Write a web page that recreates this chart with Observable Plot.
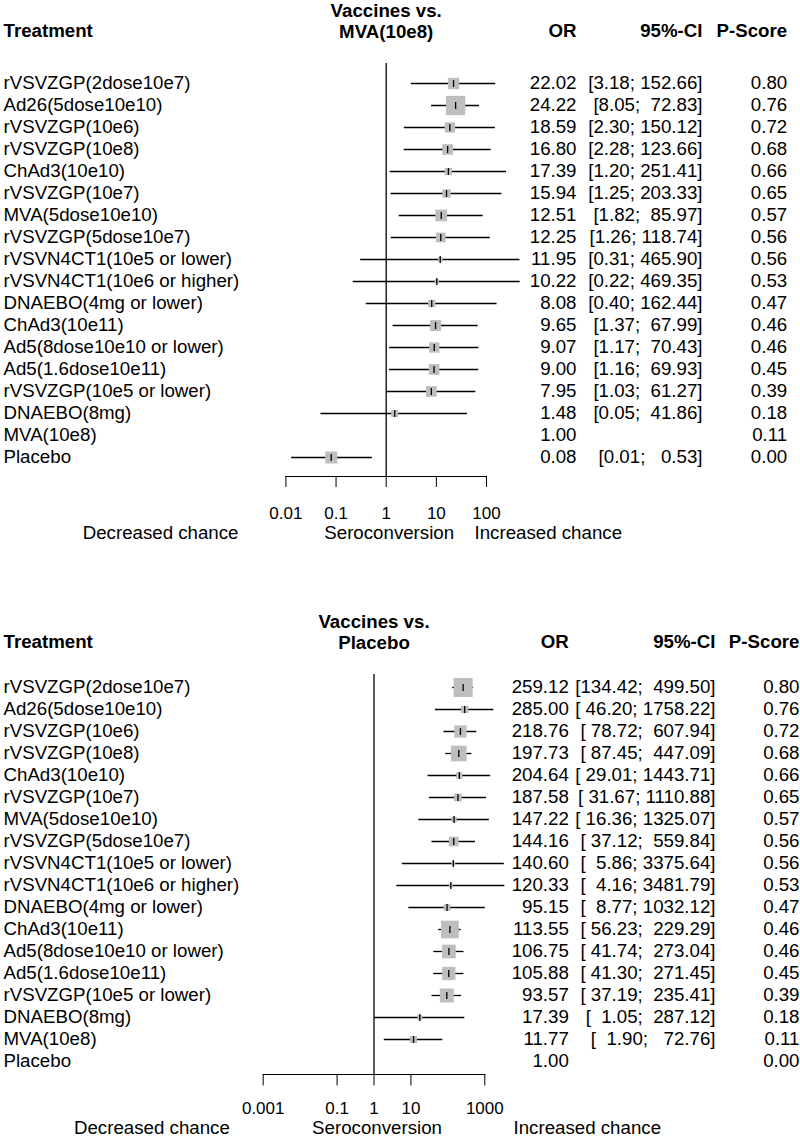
<!DOCTYPE html>
<html><head><meta charset="utf-8">
<script src="https://cdn.jsdelivr.net/npm/d3@7"></script>
<script src="https://cdn.jsdelivr.net/npm/@observablehq/plot@0.6"></script>
<style>
body{margin:0;background:#fff;}
svg{display:block;}
[aria-label="x-axis tick label"], [aria-label="x-axis"] text {font-size:17px;}
</style>
</head><body><div id="chart"></div>
<script>
// ---------- DATA ----------
const treatments = [
  "rVSVZGP(2dose10e7)", "Ad26(5dose10e10)", "rVSVZGP(10e6)", "rVSVZGP(10e8)",
  "ChAd3(10e10)", "rVSVZGP(10e7)", "MVA(5dose10e10)", "rVSVZGP(5dose10e7)",
  "rVSVN4CT1(10e5 or lower)", "rVSVN4CT1(10e6 or higher)", "DNAEBO(4mg or lower)",
  "ChAd3(10e11)", "Ad5(8dose10e10 or lower)", "Ad5(1.6dose10e11)",
  "rVSVZGP(10e5 or lower)", "DNAEBO(8mg)", "MVA(10e8)", "Placebo"
];

// Panel 1: Vaccines vs. MVA(10e8)
const mvaOR    = [22.02, 24.22, 18.59, 16.80, 17.39, 15.94, 12.51, 12.25, 11.95, 10.22, 8.08, 9.65, 9.07, 9.00, 7.95, 1.48, 1.00, 0.08];
const mvaLower = [3.18, 8.05, 2.30, 2.28, 1.20, 1.25, 1.82, 1.26, 0.31, 0.22, 0.40, 1.37, 1.17, 1.16, 1.03, 0.05, null, 0.013];
const mvaUpper = [152.66, 72.83, 150.12, 123.66, 251.41, 203.33, 85.97, 118.74, 465.90, 469.35, 162.44, 67.99, 70.43, 69.93, 61.27, 41.86, null, 0.53];
const mvaPScore = [0.80, 0.76, 0.72, 0.68, 0.66, 0.65, 0.57, 0.56, 0.56, 0.53, 0.47, 0.46, 0.46, 0.45, 0.39, 0.18, 0.11, 0.00];
const mvaWeight = [11.3, 19.3, 10.3, 10.7, 7.3, 8.3, 11.7, 9.7, 4.7, 4.3, 7.3, 11, 10.3, 10.7, 10.7, 7, 0, 12];
const mvaTicks = [0.01, 0.1, 1, 10, 100];

// Panel 2: Vaccines vs. Placebo
const plaOR    = [259.12, 285.00, 218.76, 197.73, 204.64, 187.58, 147.22, 144.16, 140.60, 120.33, 95.15, 113.55, 106.75, 105.88, 93.57, 17.39, 11.77, 1.00];
const plaLower = [134.42, 46.20, 78.72, 87.45, 29.01, 31.67, 16.36, 37.12, 5.86, 4.16, 8.77, 56.23, 41.74, 41.30, 37.19, 1.05, 1.90, null];
const plaUpper = [499.50, 1758.22, 607.94, 447.09, 1443.71, 1110.88, 1325.07, 559.84, 3375.64, 3481.79, 1032.12, 229.29, 273.04, 271.45, 235.41, 287.12, 72.76, null];
const plaPScore = [0.80, 0.76, 0.72, 0.68, 0.66, 0.65, 0.57, 0.56, 0.56, 0.53, 0.47, 0.46, 0.46, 0.45, 0.39, 0.18, 0.11, 0.00];
const plaWeight = [19, 7.3, 12.3, 15.7, 6.3, 7.7, 5.3, 9.7, 4, 4, 6.7, 17.7, 13.7, 13.3, 14, 5, 7, 0];
const plaTicks = [0.001, 0.1, 1, 10, 1000];

const nullEffect = 1;
// ---------------------------

const FONT = "'Liberation Sans', Arial, Helvetica, sans-serif";
const FS = 18.7;
const NBSP = "\u00A0";

// vertical-line symbol for the point estimate tick
const vline = {
  draw(context, size) {
    const h = Math.sqrt(size / Math.PI);
    context.moveTo(0, -h);
    context.lineTo(0, h);
  }
};

function buildRows(or, lo, hi, p, w) {
  const L = lo.map(v => v == null ? "" : v.toFixed(2));
  const H = hi.map(v => v == null ? "" : v.toFixed(2));
  const wl = d3.max(L, s => s.length), wh = d3.max(H, s => s.length);
  return treatments.map((label, i) => ({
    label, or: or[i], lo: lo[i], hi: hi[i], p: p[i], w: w[i],
    orText: or[i].toFixed(2),
    ciText: lo[i] == null ? "" : "[" + L[i].padStart(wl, NBSP) + ";" + NBSP + H[i].padStart(wh, NBSP) + "]",
    pText: p[i].toFixed(2)
  }));
}

function forest(c) {
  const rows = c.rows;
  const frameRight = 800 - c.marginRight;
  const txt = {fontSize: FS, fill: "black", lineAnchor: "middle"};
  const bold = {...txt, fontWeight: "bold"};
  return Plot.plot({
    width: 800, height: c.height,
    marginTop: c.marginTop, marginBottom: c.marginBottom,
    marginLeft: c.marginLeft, marginRight: c.marginRight,
    style: {fontFamily: FONT, fontSize: "17px", background: "white", color: "black"},
    x: {type: "log", domain: c.domain, ticks: c.ticks, tickFormat: d => String(d),
        tickSize: c.tickSize, tickPadding: c.tickPadding, line: true, label: null},
    y: {type: "point", domain: treatments, range: c.yRange, padding: 0, axis: null},
    r: {type: "identity"},
    marks: [
      Plot.ruleX([nullEffect], {stroke: "black", strokeWidth: 1.3}),
      Plot.ruleY(rows.filter(d => d.lo != null), {y: "label", x1: "lo", x2: "hi", stroke: "black", strokeWidth: 1.3}),
      Plot.dot(rows.filter(d => d.w > 0), {x: "or", y: "label", r: d => d.w / Math.sqrt(Math.PI), symbol: "square", fill: "#bebebe", stroke: null}),
      Plot.dot(rows.filter(d => d.w > 0), {x: "or", y: "label", r: 3.5, symbol: vline, fill: "none", stroke: "black", strokeWidth: 1.3}),
      // row texts
      Plot.text(rows, {y: "label", text: "label", frameAnchor: "left", dx: 3 - c.marginLeft, textAnchor: "start", ...txt}),
      Plot.text(rows, {y: "label", text: "orText", frameAnchor: "right", dx: c.colOR - frameRight, textAnchor: "end", ...txt}),
      Plot.text(rows, {y: "label", text: "ciText", frameAnchor: "right", dx: c.colCI - frameRight, textAnchor: "end", ...txt}),
      Plot.text(rows, {y: "label", text: "pText", frameAnchor: "right", dx: c.colP - frameRight, textAnchor: "end", ...txt}),
      // headers
      Plot.text(["Treatment"], {frameAnchor: "top-left", dx: 3 - c.marginLeft, dy: c.headY - c.marginTop, textAnchor: "start", ...bold}),
      Plot.text(["OR"], {frameAnchor: "top-right", dx: c.colOR - frameRight, dy: c.headY - c.marginTop, textAnchor: "end", ...bold}),
      Plot.text(["95%-CI"], {frameAnchor: "top-right", dx: c.colCI - frameRight, dy: c.headY - c.marginTop, textAnchor: "end", ...bold}),
      Plot.text(["P-Score"], {frameAnchor: "top-right", dx: c.colP - frameRight, dy: c.headY - c.marginTop, textAnchor: "end", ...bold}),
      Plot.text(["Vaccines vs.\n" + c.comparator], {x: () => nullEffect, frameAnchor: "top", dy: c.compY - c.marginTop, textAnchor: "middle", lineHeight: 1.13, ...bold}),
      // bottom labels
      Plot.text(["Seroconversion"], {x: () => nullEffect, frameAnchor: "bottom", dx: 3, dy: c.footDy, textAnchor: "middle", ...txt}),
      Plot.text(["Decreased chance"], {frameAnchor: "bottom-left", dx: c.leftEnd - c.marginLeft, dy: c.footDy, textAnchor: "end", ...txt}),
      Plot.text(["Increased chance"], {frameAnchor: "bottom-right", dx: c.rightStart - frameRight, dy: c.footDy, textAnchor: "start", ...txt})
    ]
  });
}

const chart = document.getElementById("chart");

chart.append(forest({
  rows: buildRows(mvaOR, mvaLower, mvaUpper, mvaPScore, mvaWeight),
  comparator: "MVA(10e8)",
  height: 560, marginTop: 63, marginBottom: 84, marginLeft: 285.4, marginRight: 314,
  domain: [0.01, 100], ticks: mvaTicks, tickSize: 11, tickPadding: 19,
  yRange: [75.7, 463.3],
  colOR: 576, colCI: 702, colP: 786.7,
  headY: 30.5, compY: 20.5, footDy: 57,
  leftEnd: 238, rightStart: 474
}));

chart.append(forest({
  rows: buildRows(plaOR, plaLower, plaUpper, plaPScore, plaWeight),
  comparator: "Placebo",
  height: 577, marginTop: 114, marginBottom: 63, marginLeft: 262.7, marginRight: 315.7,
  domain: [0.001, 1000], ticks: plaTicks, tickSize: 11.5, tickPadding: 15.5,
  yRange: [125.7, 503],
  colOR: 568.3, colCI: 715, colP: 799,
  headY: 81.7, compY: 70.85, footDy: 53.5,
  leftEnd: 229.3, rightStart: 513
}));
</script>
</body></html>
